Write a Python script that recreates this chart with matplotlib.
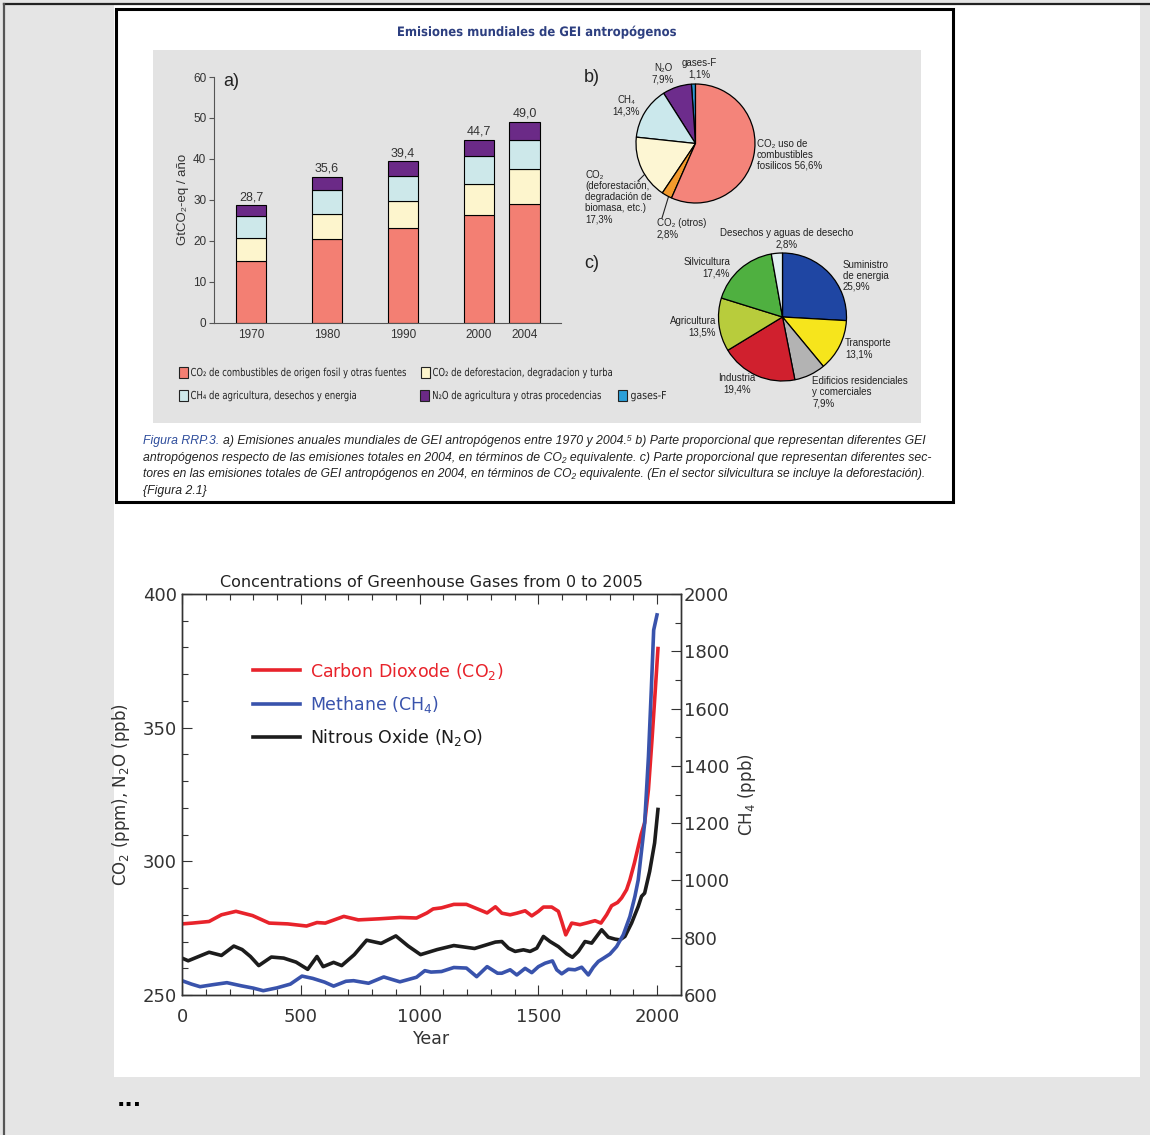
import numpy as np
import matplotlib
matplotlib.use("Agg")
import matplotlib.pyplot as plt
from matplotlib.patches import Rectangle, PathPatch
from matplotlib.ticker import MultipleLocator
from matplotlib.textpath import TextPath
from matplotlib.transforms import Affine2D
from matplotlib import font_manager

# ---- data: panel a) (GtCO2-eq / year)
bar_years = ['1970', '1980', '1990', '2000', '2004']
co2_fossil = [15.1, 20.3, 23.0, 26.3, 29.0]
co2_defor = [5.5, 6.3, 6.7, 7.6, 8.6]
ch4_agri = [5.5, 5.8, 6.1, 6.8, 7.0]
n2o_agri = [2.6, 3.2, 3.6, 4.0, 4.4]

bar_legend = ['CO₂ de combustibles de origen fosil y otras fuentes',
              'CO₂ de deforestacion, degradacion y turba',
              'CH₄ de agricultura, desechos y energia',
              'N₂O de agricultura y otras procedencias',
              'gases-F']

# ---- data: panel b) share of gases in 2004 (%)
gas_names = ['gases-F', 'N₂O', 'CH₄',
             'CO₂\n(deforestación,\ndegradación de\nbiomasa, etc.)',
             'CO₂ (otros)', 'CO₂ uso de\ncombustibles\nfosilicos']
gas_share = [1.1, 7.9, 14.3, 17.3, 2.8, 56.6]

# ---- data: panel c) share of sectors in 2004 (%)
sector_names = ['Suministro\nde energia', 'Transporte',
                'Edificios residenciales\ny comerciales', 'Industria',
                'Agricultura', 'Silvicultura', 'Desechos y aguas de desecho']
sector_share = [25.9, 13.1, 7.9, 19.4, 13.5, 17.4, 2.8]

caption = ['a) Emisiones anuales mundiales de GEI antropógenos entre 1970 y 2004.⁵ b) Parte proporcional que representan diferentes GEI',
           'antropógenos respecto de las emisiones totales en 2004, en términos de CO₂ equivalente. c) Parte proporcional que representan diferentes sec-',
           'tores en las emisiones totales de GEI antropógenos en 2004, en términos de CO₂ equivalente. (En el sector silvicultura se incluye la deforestación).',
           '{Figura 2.1}']

# ---- data: concentrations 0-2005
co2_year = [0, 44, 114, 166, 227, 297, 367, 445, 524, 568, 603, 681, 742, 830, 917, 987,
            1031, 1057, 1092, 1144, 1197, 1249, 1284, 1319,
            1346, 1381, 1409, 1444, 1472, 1500, 1521, 1556, 1584, 1598, 1615, 1640, 1675,
            1710, 1738, 1763, 1787, 1808, 1833, 1850, 1871, 1885,
            1904, 1932, 1947, 1963, 1978, 1992, 2003]
co2_ppm = [276.6, 276.9, 277.5, 280.0, 281.3, 279.7, 276.9, 276.6, 275.8, 277.1, 276.9, 279.4,
           278.1, 278.5, 279.0, 278.8, 280.7, 282.2, 282.6, 283.9, 283.9, 282.0, 280.7, 283.0,
           280.6, 280.0, 280.6, 281.5, 279.6, 281.3, 282.9, 282.9, 281.3, 277.5, 272.5, 276.9,
           276.3, 277.1, 277.8, 276.9, 280.0, 283.4, 284.6, 286.3, 289.4, 293.1,
           299.4, 310.0, 314.4, 326.9, 345.6, 364.4, 379.6]

ch4_year = [0, 40, 76, 130, 189, 250, 300, 342, 400, 456, 505, 550, 600, 638, 690, 722, 785,
            849, 917, 987, 1022, 1048, 1092, 1144, 1197, 1240, 1284, 1328,
            1346, 1381, 1409, 1444, 1472, 1500, 1528, 1559, 1577, 1598, 1626, 1654, 1682,
            1710, 1731, 1752, 1773, 1801, 1829, 1857, 1885, 1906, 1920,
            1947, 1963, 1975, 1985, 1999]
ch4_ppb = [650, 638, 629, 636, 643, 632, 624, 615, 625, 638, 666, 658, 645, 631, 648, 650, 641,
           663, 646, 662, 685, 680, 682, 696, 694, 664, 699, 676,
           676, 688, 670, 693, 678, 699, 711, 719, 688, 674, 690, 688, 697,
           670, 697, 717, 728, 743, 769, 810, 874, 944, 1002,
           1199, 1432, 1665, 1874, 1927]

n2o_year = [0, 26, 70, 114, 166, 218, 253, 288, 323, 376, 428, 480, 529, 568, 594, 638, 672,
            725, 777, 838, 900, 952, 1004, 1074, 1144, 1231, 1319,
            1346, 1374, 1402, 1437, 1465, 1493, 1521, 1549, 1584, 1619, 1643, 1668, 1696,
            1724, 1745, 1766, 1794, 1822, 1843, 1864, 1892, 1920, 1934,
            1947, 1968, 1989, 2003]
n2o_ppb = [263.8, 262.8, 264.4, 266.0, 264.8, 268.3, 267.0, 264.4, 261.0, 264.2, 263.8, 262.3,
           259.6, 264.4, 260.6, 262.2, 261.0, 265.1, 270.5, 269.3, 272.1, 268.3, 265.1, 267.0,
           268.5, 267.4, 269.8,
           270.0, 267.5, 266.3, 266.9, 266.3, 267.5, 271.9, 270.0, 268.1, 265.4, 264.1, 266.3,
           270.0, 269.4, 271.9, 274.4, 271.6, 270.9, 270.6, 271.9, 276.9, 283.1, 286.9,
           288.1, 296.2, 306.9, 319.4]


def has_font(name):
    try:
        font_manager.findfont(font_manager.FontProperties(family=name),
                              fallback_to_default=False)
        return True
    except ValueError:
        return False


sans = ['Liberation Sans', 'DejaVu Sans']
narrow = (['Liberation Sans Narrow'] if has_font('Liberation Sans Narrow') else []) + sans


def pct(v):
    return f'{v:.1f}'.replace('.', ',')


W, H = 1150, 1135
fig = plt.figure(figsize=(W / 100, H / 100), dpi=100)
rend = fig.canvas.get_renderer()

# full-page pixel canvas for the page and the scanned figure frame
bg = fig.add_axes([0, 0, 1, 1])
bg.set_zorder(-1)
bg.set_xlim(0, W)
bg.set_ylim(H, 0)
bg.axis('off')
bg.add_patch(Rectangle((0, 0), W, H, fc='#e5e5e5', ec='none'))
bg.add_patch(Rectangle((114, 5), 1026, 1072, fc='white', ec='none'))
bg.plot([4, W], [4, 4], color='#222222', lw=1.6)
bg.plot([4, 4], [4, H], color='#555555', lw=1.6)
bg.add_patch(Rectangle((115.5, 9), 837, 493, fc='white', ec='black', lw=2.2))
bg.add_patch(Rectangle((153, 50), 768, 373, fc='#e3e3e3', ec='none'))


def fit(t, width):
    w = t.get_window_extent(renderer=rend).width
    t.set_fontsize(t.get_fontsize() * width / w)


def squeezed(x, y, s, size_px, width_px, color, weight='normal', ha='left'):
    # condensed text drawn as a path, squeezed to the given pixel width
    tp = TextPath((0, 0), s, size=size_px,
                  prop=font_manager.FontProperties(family='DejaVu Sans', weight=weight))
    ext = tp.get_extents()
    sx = width_px / ext.width
    x0 = x if ha == 'left' else x - width_px / 2
    tr = Affine2D().translate(-ext.x0, 0).scale(sx, -1).translate(x0, y) + bg.transData
    bg.add_patch(PathPatch(tp, fc=color, ec='none', transform=tr))


def px_axes(x0, y0, x1, y1):
    return fig.add_axes([x0 / W, 1 - y1 / H, (x1 - x0) / W, (y1 - y0) / H])


squeezed(537, 36, 'Emisiones mundiales de GEI antropógenos', 13, 278, '#2d3f80',
         weight='bold', ha='center')

# ---- panel a) stacked bars
bar_colors = ['#f37f73', '#fdf5cd', '#cde8ea', '#6b2a87', '#2b9fd9']
axb = px_axes(214, 77, 561, 322.5)
axb.patch.set_visible(False)
pos = [0, 1, 2, 3, 3.6]
bottom = np.zeros(len(bar_years))
for vals, col in zip([co2_fossil, co2_defor, ch4_agri, n2o_agri], bar_colors):
    axb.bar(pos, vals, 0.40, bottom=bottom, color=col, edgecolor='black', linewidth=0.8)
    bottom = bottom + np.array(vals)
for p, tot in zip(pos, bottom):
    axb.text(p, tot + 0.5, pct(tot), ha='center', va='bottom', fontsize=9,
             color='#333333', family=sans)
axb.set_xlim(-0.487, 4.079)
axb.set_ylim(0, 60)
axb.set_xticks(pos)
axb.set_xticklabels(bar_years, family=sans, fontsize=8.5, color='#333333')
axb.set_yticks(range(0, 61, 10))
axb.set_yticklabels([str(v) for v in range(0, 61, 10)], family=sans, fontsize=8.5,
                    color='#333333')
axb.tick_params(axis='x', length=0, pad=5)
axb.tick_params(axis='y', length=3.5, color='#555555', pad=2)
for s in ['top', 'right']:
    axb.spines[s].set_visible(False)
for s in ['left', 'bottom']:
    axb.spines[s].set_color('#555555')
    axb.spines[s].set_linewidth(0.8)
axb.set_ylabel('GtCO₂-eq / año', family=sans, fontsize=9.5, color='#333333', labelpad=3)

bg.text(231, 81, 'a)', ha='center', va='center', fontsize=13, color='#222222', family=sans)
bg.text(592, 78, 'b)', ha='center', va='center', fontsize=13, color='#222222', family=sans)
bg.text(592, 263, 'c)', ha='center', va='center', fontsize=13, color='#222222', family=sans)

# bar legend
leg_place = [(179, 372, 191, 215), (421, 372, 433, 179), (179, 395, 191, 165),
             (420, 395, 433, 168), (618, 395, 631, 35)]
for (px, py, tx, tw), lab, col in zip(leg_place, bar_legend, bar_colors):
    bg.add_patch(Rectangle((px, py - 5.5), 9, 11, fc=col, ec='#222222', lw=0.8))
    squeezed(tx, py + 4, lab, 11, tw, '#222222')

# ---- panel b) pie of gases
def pie_axes(cx, cy, r):
    return px_axes(cx - 1.05 * r, cy - 1.05 * r, cx + 1.05 * r, cy + 1.05 * r)


gas_colors = ['#2c96d2', '#6d2c8c', '#cbe8ec', '#fdf6d3', '#f39a2c', '#f4847a']
axp = pie_axes(695.5, 143.5, 59.5)
axp.pie(gas_share, colors=gas_colors, startangle=90, counterclock=True,
        wedgeprops=dict(edgecolor='black', linewidth=0.9))
axp.set_xlim(-1.05, 1.05)
axp.set_ylim(-1.05, 1.05)

gas_place = [(699, 68.5, 'center', '\n'), (663, 73.5, 'center', '\n'),
             (626, 105.5, 'center', '\n'), (585, 197, 'left', '\n'),
             (657, 228.5, 'left', '\n'), (757, 154.7, 'left', ' ')]
for (x, y, ha, sep), name, v in zip(gas_place, gas_names, gas_share):
    bg.text(x, y, name + sep + pct(v) + '%', ha=ha, va='center', family=sans,
            fontsize=7, color='#222222', linespacing=1.15)
bg.plot([662, 669], [218, 195], color='#222222', lw=0.8)
bg.plot([638, 651], [181, 168], color='#222222', lw=0.8)

# ---- panel c) pie of sectors
sector_colors = ['#1f46a3', '#f6e51c', '#b3b3b3', '#d0202e', '#b8cc3c', '#4fb040', '#e2eff2']
axc = pie_axes(782.5, 317, 64)
axc.pie(sector_share, colors=sector_colors, startangle=90, counterclock=False,
        wedgeprops=dict(edgecolor='black', linewidth=0.9))
axc.set_xlim(-1.05, 1.05)
axc.set_ylim(-1.05, 1.05)

sector_place = [(843, 275.7, 'left'), (845, 349, 'left'), (812, 392, 'left'),
                (737, 383.5, 'center'), (716, 326.5, 'right'), (730, 267.5, 'right'),
                (787, 238.5, 'center')]
for (x, y, ha), name, v in zip(sector_place, sector_names, sector_share):
    bg.text(x, y, name + '\n' + pct(v) + '%', ha=ha, va='center', family=sans,
            fontsize=7, color='#222222', linespacing=1.15)

# ---- caption
cap_y = [441, 458, 474, 491]
blue_part = 'Figura RRP.3.'
t = bg.text(143, cap_y[0], blue_part + ' ' + caption[0], ha='left', va='center',
            family=narrow, style='italic', fontsize=8)
fit(t, 790)
fs = t.get_fontsize()
t.remove()
tb = bg.text(143, cap_y[0], blue_part, ha='left', va='center', family=narrow,
             style='italic', fontsize=fs, color='#2c4b9b')
wb = tb.get_window_extent(renderer=rend).width
bg.text(143 + wb + fs * 0.38, cap_y[0], caption[0], ha='left', va='center', family=narrow,
        style='italic', fontsize=fs, color='#222222')
for i in (1, 2):
    t = bg.text(143, cap_y[i], caption[i], ha='left', va='center', family=narrow,
                style='italic', fontsize=8, color='#222222')
    fit(t, 790)
bg.text(143, cap_y[3], caption[3], ha='left', va='center', family=narrow,
        style='italic', fontsize=fs, color='#222222')

bg.text(117, 1100, '...', ha='left', va='center', fontsize=16, fontweight='bold',
        color='black')

# ---- lower chart: concentrations
ax = px_axes(182, 594, 681, 995)
ax.patch.set_visible(False)
ax2 = ax.twinx()
l_co2, = ax.plot(co2_year, co2_ppm, color='#e8232b', lw=2.6)
l_n2o, = ax.plot(n2o_year, n2o_ppb, color='#1c1c1c', lw=2.6)
l_ch4, = ax2.plot(ch4_year, ch4_ppb, color='#3953ac', lw=2.6)

ax.set_xlim(0, 2100)
ax.set_ylim(250, 400)
ax2.set_ylim(600, 2000)
ax.xaxis.set_major_locator(MultipleLocator(500))
ax.xaxis.set_minor_locator(MultipleLocator(100))
ax.yaxis.set_major_locator(MultipleLocator(50))
ax.yaxis.set_minor_locator(MultipleLocator(10))
ax2.yaxis.set_major_locator(MultipleLocator(200))
ax2.yaxis.set_minor_locator(MultipleLocator(100))
ax.tick_params(which='both', direction='in', top=True, colors='#333333', width=0.8)
ax.tick_params(which='major', length=7, labelsize=13)
ax.tick_params(which='minor', length=4)
ax.tick_params(axis='x', pad=9)
ax2.tick_params(which='both', direction='in', colors='#333333', width=0.8)
ax2.tick_params(which='major', length=7, labelsize=13, pad=2)
ax2.tick_params(which='minor', length=4)
for a in (ax, ax2):
    for s in a.spines.values():
        s.set_color('#333333')
        s.set_linewidth(1.0)

ax.set_title('Concentrations of Greenhouse Gases from 0 to 2005', fontsize=11.5,
             color='#222222', pad=5)
ax.set_xlabel('Year', fontsize=12.5, color='#333333', labelpad=3)
ax.set_ylabel('CO$_2$ (ppm), N$_2$O (ppb)', fontsize=12, color='#333333', labelpad=8)
ax2.set_ylabel('CH$_4$ (ppb)', fontsize=12, color='#333333', labelpad=5)

ax.legend([l_co2, l_ch4, l_n2o],
          ['Carbon Dioxode (CO$_2$)', 'Methane (CH$_4$)', 'Nitrous Oxide (N$_2$O)'],
          loc='upper left', bbox_to_anchor=(0.142, 0.834), frameon=False, fontsize=12.5,
          handlelength=2.7, handletextpad=0.6, labelspacing=0.7, borderpad=0,
          borderaxespad=0, labelcolor='linecolor')

fig.savefig('out.png', dpi=100)
